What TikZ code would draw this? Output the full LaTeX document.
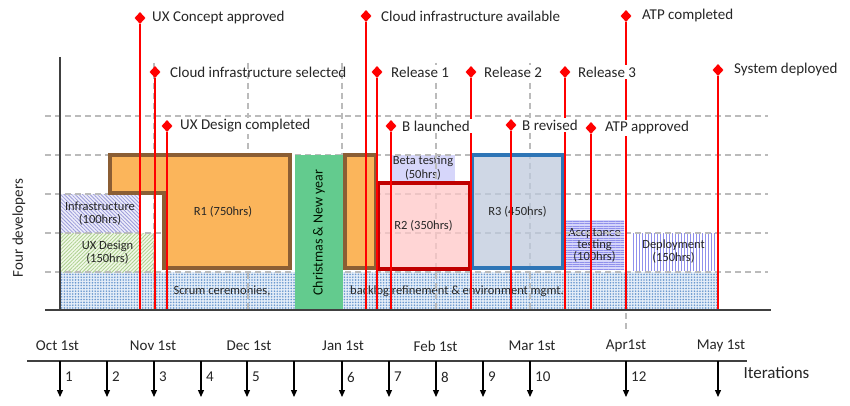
\documentclass[tikz,border=0pt]{standalone}
\usepackage{fontspec}
\setmainfont{Carlito}
\usetikzlibrary{shapes.geometric,patterns.meta,arrows.meta}
\definecolor{msred}{HTML}{FF0000}
\definecolor{orfill}{HTML}{FBB55B}
\definecolor{orbrd}{HTML}{8B5E34}
\definecolor{xmas}{HTML}{63CB8E}
\definecolor{rtwofill}{HTML}{FFC8C8}
\definecolor{rtwobrd}{HTML}{C00000}
\definecolor{rthreefill}{HTML}{BFCADD}
\definecolor{rthreebrd}{HTML}{2E75B6}
\definecolor{lav}{HTML}{D6D6FA}
\definecolor{lavline}{HTML}{9090EC}
\definecolor{bandfill}{HTML}{E4EDF8}
\definecolor{banddot}{HTML}{6A98CF}
\definecolor{infbg}{HTML}{EDEDFA}
\definecolor{infline}{HTML}{9C9CDA}
\definecolor{uxbg}{HTML}{F1F8E8}
\definecolor{uxline}{HTML}{ADD18F}
\definecolor{gridc}{HTML}{BBBBBB}
\definecolor{axisc}{HTML}{404040}
\definecolor{txtc}{HTML}{262626}
\begin{document}
\begin{tikzpicture}[x=1pt,y=-1pt,
  msdot/.style={diamond,fill=msred,draw=none,minimum width=11pt,minimum height=12pt,inner sep=0pt},
  msline/.style={draw=msred,line width=1.2pt},
  mslabel/.style={font=\fontsize{15}{18}\selectfont,text=txtc,fill=white,inner xsep=2pt,inner ysep=1.5pt,anchor=west},
  boxlbl/.style={font=\fontsize{12.5}{13.5}\selectfont,align=center,text=txtc,inner sep=0pt},
  gridline/.style={draw=gridc,line width=1.1pt,dash pattern=on 6pt off 4pt},
  axisline/.style={draw=axisc,line width=1.4pt},
  orbox/.style={fill=orfill,draw=orbrd,line width=4pt,line join=miter},
  relbox/.style={boxlbl,fill opacity=0.75,draw opacity=1,text opacity=1},
  month/.style={font=\fontsize{15}{18}\selectfont,text=txtc},
  itnum/.style={font=\fontsize{15}{18}\selectfont,text=txtc,anchor=west,inner xsep=2pt},
  itarrow/.style={draw=black,line width=1.2pt,-{Triangle[length=7pt,width=6pt]}}
]
\useasboundingbox[fill=white] (0,0) rectangle (850,406);

% background band
\node[minimum width=657pt,minimum height=38pt,inner sep=0pt,
  preaction={fill=bandfill},pattern={Dots[distance=2.8pt,radius=0.9pt]},pattern color=banddot] (band) at (388.5,291) {};
\node[boxlbl] (scrum) at (222,291) {Scrum ceremonies,};
\node[boxlbl] (backlog) at (457,291) {backlog refinement \& environment mgmt.};

% hatched boxes
\node[boxlbl,minimum width=80pt,minimum height=39pt,
  preaction={fill=infbg},pattern={Lines[angle=-45,distance=2.6pt,line width=0.8pt]},pattern color=infline] (infra) at (100,213.5) {Infrastructure\\(100hrs)};
\node[boxlbl,minimum width=95pt,minimum height=39pt,
  preaction={fill=uxbg},pattern={Lines[angle=45,distance=2.6pt,line width=0.8pt]},pattern color=uxline] (ux) at (107.5,252.5) {UX Design\\(150hrs)};

% beta, acceptance, deployment
\node[boxlbl,fill=lav,minimum width=64pt,minimum height=26pt] (beta) at (423,168) {Beta testing\\(50hrs)};
\node[boxlbl,font=\fontsize{12.5}{12}\selectfont,minimum width=59pt,minimum height=50pt,
  preaction={fill=lav},pattern={Lines[angle=0,distance=2.4pt,line width=0.6pt]},pattern color=lavline] (acc) at (594.5,245) {Accptance\\testing\\(100hrs)};
\node[boxlbl,minimum width=85pt,minimum height=37pt,
  pattern={Lines[angle=90,distance=3pt,line width=0.8pt]},pattern color=lavline] (dep) at (673.5,251.5) {Deployment\\(150hrs)};

% grid lines
\foreach \yy in {116,155,194,233,272} \draw[gridline] (45,\yy) -- (768,\yy);
\foreach \xx in {154,248,342,436,530} \draw[gridline] (\xx,63) -- (\xx,310);
\draw[gridline] (626,63) -- (626,332);

% R2, R3 (semi-transparent so the grid shows through)
\node[relbox,fill=rtwofill,draw=rtwobrd,line width=4pt,minimum width=92pt,minimum height=86pt] (r2) at (423.5,226) {R2 (350hrs)};
\node[relbox,fill=rthreefill,draw=rthreebrd,line width=3.6pt,minimum width=90pt,minimum height=113pt] (r3) at (517.5,211.5) {R3 (450hrs)};

% R1 and continuation
\draw[orbox] (110,155) -- (290,155) -- (290,268) -- (164,268) -- (164,193) -- (110,193) -- cycle;
\node[boxlbl] (r1) at (223,212) {R1 (750hrs)};
\node[orbox,minimum width=31pt,minimum height=113pt,inner sep=0pt] (r1b) at (360.5,211.5) {};

% Christmas
\node[fill=xmas,rotate=90,minimum width=155pt,minimum height=48pt,inner sep=0pt,
  font=\fontsize{14}{16}\selectfont,text=black!80!green!40!black] (xmas) at (319,232.5) {Christmas \& New year};

% axes
\draw[axisline] (45,310) -- (771,310);
\draw[axisline] (60,57) -- (60,310);
\node[rotate=90,font=\fontsize{15}{18}\selectfont,text=txtc] (fourdev) at (19,228) {Four developers};

% milestones
\foreach \n/\xx/\yy in {1/140/18,2/155/72,3/167/126,4/366/16,5/377/72,6/391/126,7/471/72,8/511/125,9/565/72,10/591/128,11/626/16,12/718/70}{
  \node[msdot] (m\n) at (\xx,\yy) {};
  \coordinate (b\n) at (\xx,309);
}
\foreach \n in {1,...,12} \draw[msline] (m\n) -- (b\n);
\node[mslabel] (l1) at ([xshift=10pt]m1.center) {UX Concept approved};
\node[mslabel,fill=none] (l2) at ([xshift=13pt]m2.center) {Cloud infrastructure selected};
\node[mslabel] (l3) at ([xshift=11pt]m3.center) {UX Design completed};
\node[mslabel] (l4) at ([xshift=13pt]m4.center) {Cloud infrastructure available};
\node[mslabel] (l5) at ([xshift=12pt]m5.center) {Release 1};
\node[mslabel] (l6) at ([xshift=9pt]m6.center) {B launched};
\node[mslabel] (l7) at ([xshift=11pt]m7.center) {Release 2};
\node[mslabel] (l8) at ([xshift=9pt]m8.center) {B revised};
\node[mslabel] (l9) at ([xshift=11pt]m9.center) {Release 3};
\node[mslabel] (l10) at ([xshift=12pt]m10.center) {ATP approved};
\node[mslabel] (l11) at ([xshift=14pt]m11.center) {ATP completed};
\node[mslabel] (l12) at ([xshift=14pt]m12.center) {System deployed};

% timeline
\coordinate (tl0) at (27,361);
\coordinate (tl1) at (747,361);
\draw[draw=axisc,line width=1.3pt] (tl0) -- (tl1);
\foreach \lab/\xx in {Oct 1st/57.5,Nov 1st/153,Dec 1st/249,Jan 1st/343,Feb 1st/435.5,Mar 1st/532,Apr1st/626,May 1st/721}
  \node[month] at (\xx,346) {\lab};
\foreach \k/\xx in {1/60,2/107,3/154,4/201,5/247,6/294,7/342,8/389,9/436,10/483,11/530,12/626,13/718}{
  \coordinate (ia\k) at (\xx,361);
  \coordinate (ib\k) at (\xx,397);
  \draw[itarrow] (ia\k) -- (ib\k);
}
\foreach \k/\t in {1/1,2/2,3/3,4/4,5/5,7/6,8/7,9/8,10/9,11/10,12/12}
  \node[itnum] (n\k) at ([xshift=3pt,yshift=-16pt]ia\k) {\t};
\node[font=\fontsize{17}{20}\selectfont,text=txtc,anchor=west] (iter) at (740,373) {Iterations};
\end{tikzpicture}
\end{document}
